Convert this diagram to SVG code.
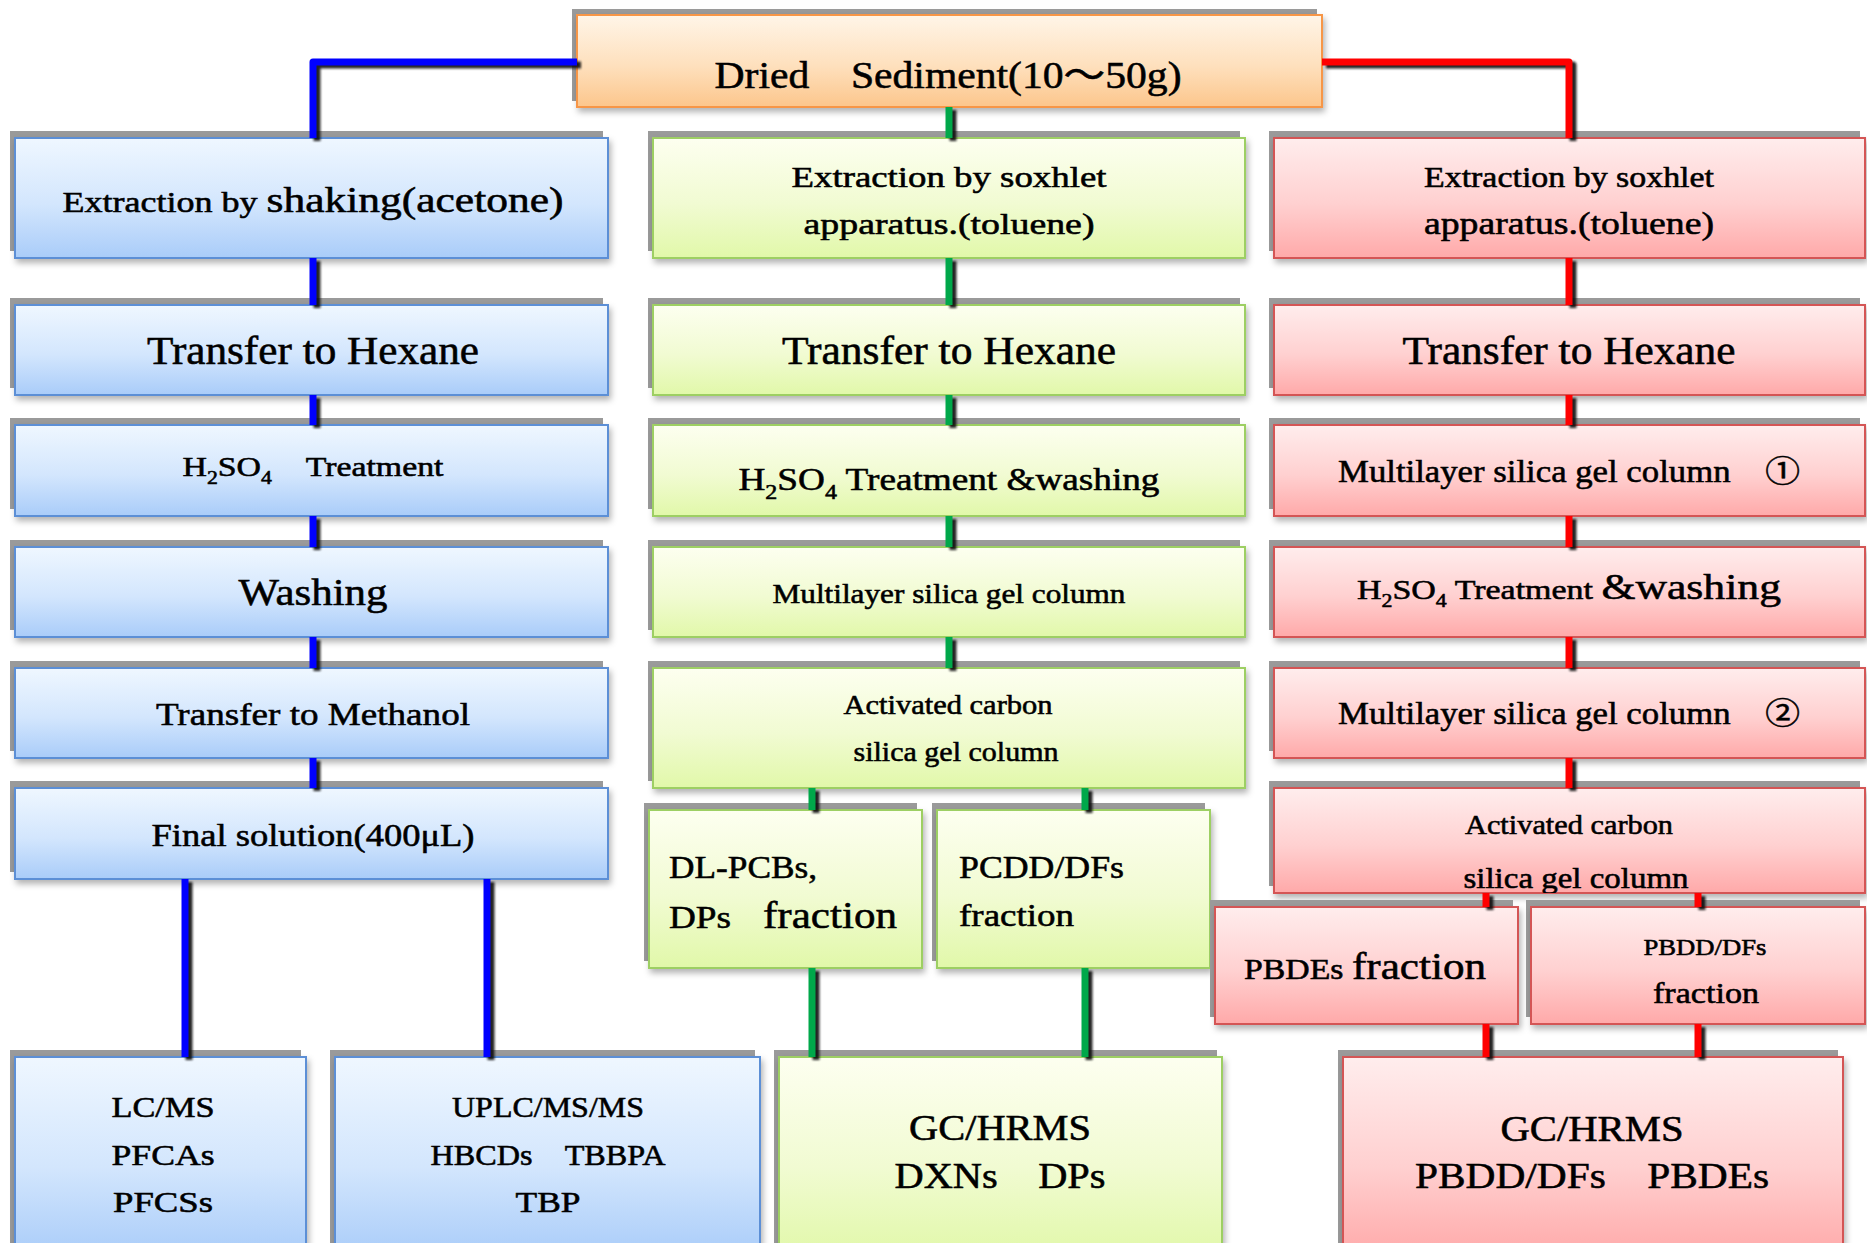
<svg xmlns="http://www.w3.org/2000/svg" width="1867" height="1243" viewBox="0 0 1867 1243">
<defs>
<linearGradient id="gBlue" x1="0" y1="0" x2="0" y2="1"><stop offset="0" stop-color="#eff7ff"/><stop offset="0.55" stop-color="#d3e6fd"/><stop offset="1" stop-color="#a9ccf9"/></linearGradient>
<linearGradient id="gGreen" x1="0" y1="0" x2="0" y2="1"><stop offset="0" stop-color="#fdfff0"/><stop offset="0.55" stop-color="#f1fbd2"/><stop offset="1" stop-color="#e1f8a9"/></linearGradient>
<linearGradient id="gRed" x1="0" y1="0" x2="0" y2="1"><stop offset="0" stop-color="#ffeded"/><stop offset="0.55" stop-color="#ffd0d0"/><stop offset="1" stop-color="#ffa9a9"/></linearGradient>
<linearGradient id="gOrange" x1="0" y1="0" x2="0" y2="1"><stop offset="0" stop-color="#fff5e8"/><stop offset="0.55" stop-color="#fee0bd"/><stop offset="1" stop-color="#fcc68c"/></linearGradient>
<filter id="soft" x="-5%" y="-10%" width="115%" height="130%"><feDropShadow dx="2" dy="4" stdDeviation="3" flood-color="#000" flood-opacity="0.3"/></filter>
<filter id="lineShadow" x="-50%" y="-50%" width="200%" height="200%"><feGaussianBlur stdDeviation="1.3"/></filter>
<clipPath id="clipR6"><rect x="1274" y="788" width="591" height="105"/></clipPath>
</defs>
<style>
.sh{fill:#9a9a9a}
.bx{stroke-width:2;filter:url(#soft)}
.blue{fill:url(#gBlue);stroke:#5b8fd6}
.green{fill:url(#gGreen);stroke:#9dcf63}
.red{fill:url(#gRed);stroke:#d45555}
.orange{fill:url(#gOrange);stroke:#f79646}
text{font-family:"Liberation Serif","Noto Sans CJK JP",serif;fill:#000;stroke:#000;stroke-width:0.55;text-anchor:middle}
.l{text-anchor:start}
.cs{fill:none;stroke:#111;stroke-width:7;stroke-linejoin:round;opacity:0.9;filter:url(#lineShadow)}
.cb{fill:none;stroke:#0000ff;stroke-width:7;stroke-linejoin:round}
.cg{fill:none;stroke:#00a84a;stroke-width:7;stroke-linejoin:round}
.cr{fill:none;stroke:#ff0000;stroke-width:7;stroke-linejoin:round}
</style>
<rect width="1867" height="1243" fill="#ffffff"/>

<g id="top"><rect class="sh" x="572" y="9" width="745" height="92"/><rect class="bx orange" x="577" y="15" width="745" height="92"/><text x="948" y="88" font-size="38" textLength="467" lengthAdjust="spacingAndGlyphs">Dried　Sediment(10～50g)</text></g>

<g id="b1"><rect class="sh" x="10" y="131" width="593" height="120"/><rect class="bx blue" x="15" y="138" width="593" height="120"/><text x="313" y="212" textLength="501" lengthAdjust="spacingAndGlyphs"><tspan font-size="29">Extraction by </tspan><tspan font-size="35">shaking(acetone)</tspan></text></g>
<g id="b2"><rect class="sh" x="10" y="298" width="593" height="90"/><rect class="bx blue" x="15" y="305" width="593" height="90"/><text x="313" y="364" font-size="40" textLength="332" lengthAdjust="spacingAndGlyphs">Transfer to Hexane</text></g>
<g id="b3"><rect class="sh" x="10" y="418" width="593" height="91"/><rect class="bx blue" x="15" y="425" width="593" height="91"/><text x="313" y="476" font-size="28" textLength="261" lengthAdjust="spacingAndGlyphs">H<tspan font-size="18" dy="8">2</tspan><tspan dy="-8">SO</tspan><tspan font-size="18" dy="8">4</tspan><tspan dy="-8">　Treatment</tspan></text></g>
<g id="b4"><rect class="sh" x="10" y="540" width="593" height="90"/><rect class="bx blue" x="15" y="547" width="593" height="90"/><text x="313" y="605" font-size="38" textLength="149" lengthAdjust="spacingAndGlyphs">Washing</text></g>
<g id="b5"><rect class="sh" x="10" y="661" width="593" height="90"/><rect class="bx blue" x="15" y="668" width="593" height="90"/><text x="313" y="725" font-size="32" textLength="314" lengthAdjust="spacingAndGlyphs">Transfer to Methanol</text></g>
<g id="b6"><rect class="sh" x="10" y="781" width="593" height="91"/><rect class="bx blue" x="15" y="788" width="593" height="91"/><text x="313" y="846" font-size="32" textLength="323" lengthAdjust="spacingAndGlyphs">Final solution(400μL)</text></g>
<g id="b7"><rect class="sh" x="10" y="1050" width="291" height="200"/><rect class="bx blue" x="15" y="1057" width="291" height="200"/><text x="163" y="1117" font-size="30" textLength="103" lengthAdjust="spacingAndGlyphs">LC/MS</text><text x="163" y="1165" font-size="30" textLength="103" lengthAdjust="spacingAndGlyphs">PFCAs</text><text x="163" y="1212" font-size="30" textLength="100" lengthAdjust="spacingAndGlyphs">PFCSs</text></g>
<g id="b8"><rect class="sh" x="330" y="1050" width="425" height="200"/><rect class="bx blue" x="335" y="1057" width="425" height="200"/><text x="548" y="1117" font-size="30" textLength="192" lengthAdjust="spacingAndGlyphs">UPLC/MS/MS</text><text x="548" y="1165" font-size="30" textLength="235" lengthAdjust="spacingAndGlyphs">HBCDs　TBBPA</text><text x="548" y="1212" font-size="30" textLength="65" lengthAdjust="spacingAndGlyphs">TBP</text></g>

<g id="g1"><rect class="sh" x="648" y="131" width="592" height="120"/><rect class="bx green" x="653" y="138" width="592" height="120"/><text x="949" y="187" font-size="30" textLength="315" lengthAdjust="spacingAndGlyphs">Extraction by soxhlet</text><text x="949" y="234" font-size="30" textLength="291" lengthAdjust="spacingAndGlyphs">apparatus.(toluene)</text></g>
<g id="g2"><rect class="sh" x="648" y="298" width="592" height="90"/><rect class="bx green" x="653" y="305" width="592" height="90"/><text x="949" y="364" font-size="40" textLength="334" lengthAdjust="spacingAndGlyphs">Transfer to Hexane</text></g>
<g id="g3"><rect class="sh" x="648" y="418" width="592" height="91"/><rect class="bx green" x="653" y="425" width="592" height="91"/><text x="949" y="490" font-size="31" textLength="421" lengthAdjust="spacingAndGlyphs">H<tspan font-size="20" dy="9">2</tspan><tspan dy="-9">SO</tspan><tspan font-size="20" dy="9">4</tspan><tspan dy="-9"> Treatment &amp;washing</tspan></text></g>
<g id="g4"><rect class="sh" x="648" y="540" width="592" height="90"/><rect class="bx green" x="653" y="547" width="592" height="90"/><text x="949" y="603" font-size="27" textLength="353" lengthAdjust="spacingAndGlyphs">Multilayer silica gel column</text></g>
<g id="g5"><rect class="sh" x="648" y="661" width="592" height="120"/><rect class="bx green" x="653" y="668" width="592" height="120"/><text x="948" y="714" font-size="27" textLength="209" lengthAdjust="spacingAndGlyphs">Activated carbon</text><text x="956" y="761" font-size="27" textLength="205" lengthAdjust="spacingAndGlyphs">silica gel column</text></g>
<g id="g6"><rect class="sh" x="644" y="803" width="273" height="158"/><rect class="bx green" x="649" y="810" width="273" height="158"/><text class="l" x="669" y="878" font-size="32" textLength="148" lengthAdjust="spacingAndGlyphs">DL-PCBs,</text><text class="l" x="669" y="928" font-size="32" textLength="62" lengthAdjust="spacingAndGlyphs">DPs</text><text class="l" x="763" y="928" font-size="38" textLength="134" lengthAdjust="spacingAndGlyphs">fraction</text></g>
<g id="g7"><rect class="sh" x="932" y="803" width="273" height="158"/><rect class="bx green" x="937" y="810" width="273" height="158"/><text class="l" x="959" y="878" font-size="32" textLength="165" lengthAdjust="spacingAndGlyphs">PCDD/DFs</text><text class="l" x="959" y="926" font-size="32" textLength="115" lengthAdjust="spacingAndGlyphs">fraction</text></g>
<g id="g8"><rect class="sh" x="774" y="1050" width="443" height="200"/><rect class="bx green" x="779" y="1057" width="443" height="200"/><text x="1000" y="1140" font-size="36" textLength="182" lengthAdjust="spacingAndGlyphs">GC/HRMS</text><text x="1000" y="1188" font-size="36" textLength="211" lengthAdjust="spacingAndGlyphs">DXNs　DPs</text></g>

<g id="r1"><rect class="sh" x="1269" y="131" width="591" height="120"/><rect class="bx red" x="1274" y="138" width="591" height="120"/><text x="1569" y="187" font-size="29" textLength="290" lengthAdjust="spacingAndGlyphs">Extraction by soxhlet</text><text x="1569" y="234" font-size="31" textLength="290" lengthAdjust="spacingAndGlyphs">apparatus.(toluene)</text></g>
<g id="r2"><rect class="sh" x="1269" y="298" width="591" height="90"/><rect class="bx red" x="1274" y="305" width="591" height="90"/><text x="1569" y="364" font-size="40" textLength="333" lengthAdjust="spacingAndGlyphs">Transfer to Hexane</text></g>
<g id="r3"><rect class="sh" x="1269" y="418" width="591" height="91"/><rect class="bx red" x="1274" y="425" width="591" height="91"/><text x="1569" y="482" font-size="31" textLength="462" lengthAdjust="spacingAndGlyphs">Multilayer silica gel column　①</text></g>
<g id="r4"><rect class="sh" x="1269" y="540" width="591" height="90"/><rect class="bx red" x="1274" y="547" width="591" height="90"/><text x="1569" y="599" textLength="424" lengthAdjust="spacingAndGlyphs"><tspan font-size="28">H</tspan><tspan font-size="18" dy="8">2</tspan><tspan font-size="28" dy="-8">SO</tspan><tspan font-size="18" dy="8">4</tspan><tspan font-size="28" dy="-8"> Treatment </tspan><tspan font-size="36">&amp;washing</tspan></text></g>
<g id="r5"><rect class="sh" x="1269" y="661" width="591" height="90"/><rect class="bx red" x="1274" y="668" width="591" height="90"/><text x="1569" y="724" font-size="31" textLength="462" lengthAdjust="spacingAndGlyphs">Multilayer silica gel column　②</text></g>
<g id="r6"><rect class="sh" x="1269" y="781" width="591" height="105"/><rect class="bx red" x="1274" y="788" width="591" height="105"/><text x="1569" y="834" font-size="27" textLength="208" lengthAdjust="spacingAndGlyphs">Activated carbon</text><g clip-path="url(#clipR6)"><text x="1576" y="888" font-size="29" textLength="225" lengthAdjust="spacingAndGlyphs">silica gel column</text></g></g>
<g id="r7"><rect class="sh" x="1210" y="900" width="303" height="117"/><rect class="bx red" x="1215" y="907" width="303" height="117"/><text x="1365" y="979" textLength="242" lengthAdjust="spacingAndGlyphs"><tspan font-size="29">PBDEs </tspan><tspan font-size="37">fraction</tspan></text></g>
<g id="r8"><rect class="sh" x="1526" y="900" width="334" height="117"/><rect class="bx red" x="1531" y="907" width="334" height="117"/><text x="1705" y="955" font-size="23" textLength="123" lengthAdjust="spacingAndGlyphs">PBDD/DFs</text><text x="1706" y="1003" font-size="29" textLength="106" lengthAdjust="spacingAndGlyphs">fraction</text></g>
<g id="r9"><rect class="sh" x="1338" y="1050" width="500" height="200"/><rect class="bx red" x="1343" y="1057" width="500" height="200"/><text x="1592" y="1141" font-size="36" textLength="183" lengthAdjust="spacingAndGlyphs">GC/HRMS</text><text x="1592" y="1188" font-size="36" textLength="354" lengthAdjust="spacingAndGlyphs">PBDD/DFs　PBDEs</text></g>

<g id="connectors">
<g transform="translate(4,3)">
<path class="cs" d="M577,62 H313 V138 M313,258 V305 M313,395 V425 M313,516 V547 M313,637 V668 M313,758 V788 M185,879 V1057 M487,879 V1057"/>
<path class="cs" d="M949,107 V138 M949,258 V305 M949,395 V425 M949,516 V547 M949,637 V668 M812,788 V810 M1085,788 V810 M812,968 V1057 M1085,968 V1057"/>
<path class="cs" d="M1322,62 H1569 V138 M1569,258 V305 M1569,395 V425 M1569,516 V547 M1569,637 V668 M1569,758 V788 M1486,893 V907 M1698,893 V907 M1486,1024 V1057 M1698,1024 V1057"/>
</g>
<path id="c-blue" class="cb" d="M577,62 H313 V138 M313,258 V305 M313,395 V425 M313,516 V547 M313,637 V668 M313,758 V788 M185,879 V1057 M487,879 V1057"/>
<path id="c-green" class="cg" d="M949,107 V138 M949,258 V305 M949,395 V425 M949,516 V547 M949,637 V668 M812,788 V810 M1085,788 V810 M812,968 V1057 M1085,968 V1057"/>
<path id="c-red" class="cr" d="M1322,62 H1569 V138 M1569,258 V305 M1569,395 V425 M1569,516 V547 M1569,637 V668 M1569,758 V788 M1486,893 V907 M1698,893 V907 M1486,1024 V1057 M1698,1024 V1057"/>
</g>
</svg>
